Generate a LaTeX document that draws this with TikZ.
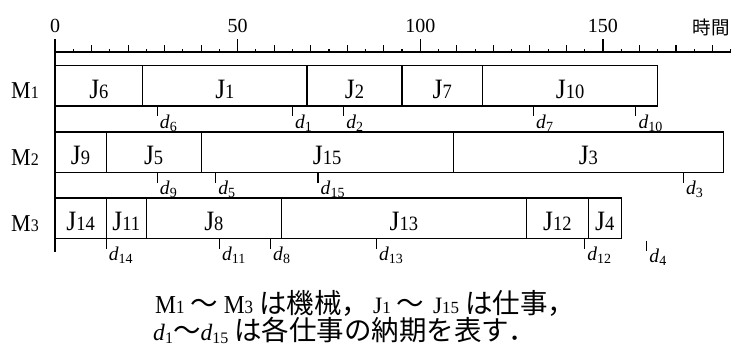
\documentclass[tikz,border=0pt]{standalone}
\usepackage{fontspec}
\usepackage{graphicx}
\setmainfont{Liberation Serif}
\newfontfamily\jp{Noto Sans CJK JP}
\newcommand\lsub[1]{{\fontsize{18.5}{18.5}\selectfont #1}}
\newcommand\msub[1]{{\fontsize{16}{16}\selectfont #1}}
\newcommand\csub[1]{{\fontsize{17}{17}\selectfont #1}}
\newcommand\dsub[1]{\raisebox{-3pt}{\fontsize{14}{14}\selectfont #1}}
\newcommand\esub[1]{\raisebox{-3pt}{\fontsize{16}{16}\selectfont #1}}
\newcommand\vst[1]{\scalebox{1}[1.1]{#1}}
\newcommand\jobx[5]{%
  \pgfmathsetmacro\jw{(#3-#2)*3.653}%
  \node[jobbox, minimum width=\jw pt, anchor=south west] (#1) at (#2,#4) {};
  \node[jlab] (#1-l) at ([yshift=8pt]#1.south) {\vst{J\lsub{#5}}};}
\newcommand\dline[4]{%
  \coordinate (#1-a) at (#2,#3);
  \coordinate (#1-b) at (#2,#3+10);
  \draw[tickl] (#1-a) -- (#1-b);
  \node[dlab] (#1-l) at ([xshift=2.5pt,yshift=-12pt]#1-b) {\textit{d}\dsub{#4}};}
\tikzset{
  jobbox/.style={draw, line width=1.2pt, inner sep=0pt, outer sep=0pt, minimum height=40.5pt},
  jlab/.style={anchor=base, inner sep=0pt, font=\fontsize{25.5}{25.5}\selectfont},
  mlab/.style={anchor=base, inner sep=0pt, font=\fontsize{22}{22}\selectfont},
  dlab/.style={anchor=base west, inner sep=0pt, font=\fontsize{19.5}{19.5}\selectfont},
  tickl/.style={line width=1.1pt},
  axisl/.style={line width=1.2pt},
  num/.style={anchor=base, inner sep=0pt, font=\fontsize{20}{20}\selectfont},
  captext/.style={anchor=base west, inner sep=0pt, font=\fontsize{23.5}{23.5}\selectfont},
}
\newcommand\jpc[1]{{\jp\fontsize{27.5}{27.5}\selectfont #1}}
\begin{document}
\begin{tikzpicture}[x=1pt,y=-1pt]
\path[use as bounding box] (0,0) rectangle (736,356);
% row labels
\node[mlab] (M1) at (25,98) {\vst{M\msub{1}}};
\node[mlab] (M2) at (25,165) {\vst{M\msub{2}}};
\node[mlab] (M3) at (25,231.5) {\vst{M\msub{3}}};
\node[anchor=base, inner sep=0pt, font=\jp\fontsize{18.5}{18.5}\selectfont] (time) at (711,34) {時間};
\begin{scope}[shift={(55,0)}, x=3.653pt]
  % axis
  \coordinate (ax0) at (0,52);
  \coordinate (ax1) at (185,52);
  \draw[axisl] (ax0) -- (ax1);
  \coordinate (vtop) at (0,39);
  \coordinate (vbot) at (0,252);
  \draw[axisl] (vtop) -- (vbot);
  \foreach \t in {5,10,...,185}{
    \pgfmathsetmacro\tl{ifthenelse(mod(\t,50)==0,13,ifthenelse(mod(\t,10)==0,7,3.5))}
    \draw[tickl] (\t,52) -- (\t,52-\tl);
  }
  \node[num] (n0) at (0,32) {0};
  \node[num] (n50) at (50,32) {50};
  \node[num] (n100) at (100,32) {100};
  \node[num] (n150) at (150,32) {150};
  % M1
  \jobx{J6}{0}{24}{106}{6}
  \jobx{J1}{24}{69}{106}{1}
  \jobx{J2}{69}{95}{106}{2}
  \jobx{J7}{95}{117}{106}{7}
  \jobx{J10}{117}{165}{106}{10}
  \dline{d6}{28}{106}{6}
  \dline{d1}{65}{106}{1}
  \dline{d2}{79}{106}{2}
  \dline{d7}{131}{106}{7}
  \dline{d10}{159}{106}{10}
  % M2
  \jobx{J9}{0}{14}{172.5}{9}
  \jobx{J5}{14}{40}{172.5}{5}
  \jobx{J15}{40}{109}{172.5}{15}
  \jobx{J3}{109}{183}{172.5}{3}
  \dline{d9}{28}{172.5}{9}
  \dline{d5}{44}{172.5}{5}
  \dline{d15}{72}{172.5}{15}
  \dline{d3}{172}{172.5}{3}
  % M3
  \jobx{J14}{0}{14}{238.5}{14}
  \jobx{J11}{14}{25}{238.5}{11}
  \jobx{J8}{25}{62}{238.5}{8}
  \jobx{J13}{62}{129}{238.5}{13}
  \jobx{J12}{129}{146}{238.5}{12}
  \jobx{J4}{146}{155}{238.5}{4}
  \dline{d14}{14}{238.5}{14}
  \dline{d11}{45}{238.5}{11}
  \dline{d8}{59}{238.5}{8}
  \dline{d13}{88}{238.5}{13}
  \dline{d12}{145}{238.5}{12}
  \dline{d4}{162}{240.5}{4}
\end{scope}
% caption
\node[captext] (cap1) at (155,313) {\vst{M\csub{1}} \jpc{〜} \vst{M\csub{3}} \jpc{は機械，}\hspace{4pt}J\csub{1} \jpc{〜}\hspace{3pt} J\csub{15} \jpc{は仕事，}};
\node[captext] (cap2) at (153,340) {\textit{d}\esub{1}\jpc{〜}\textit{d}\esub{15} \jpc{は各仕事の納期を表す．}};
\end{tikzpicture}
\end{document}
